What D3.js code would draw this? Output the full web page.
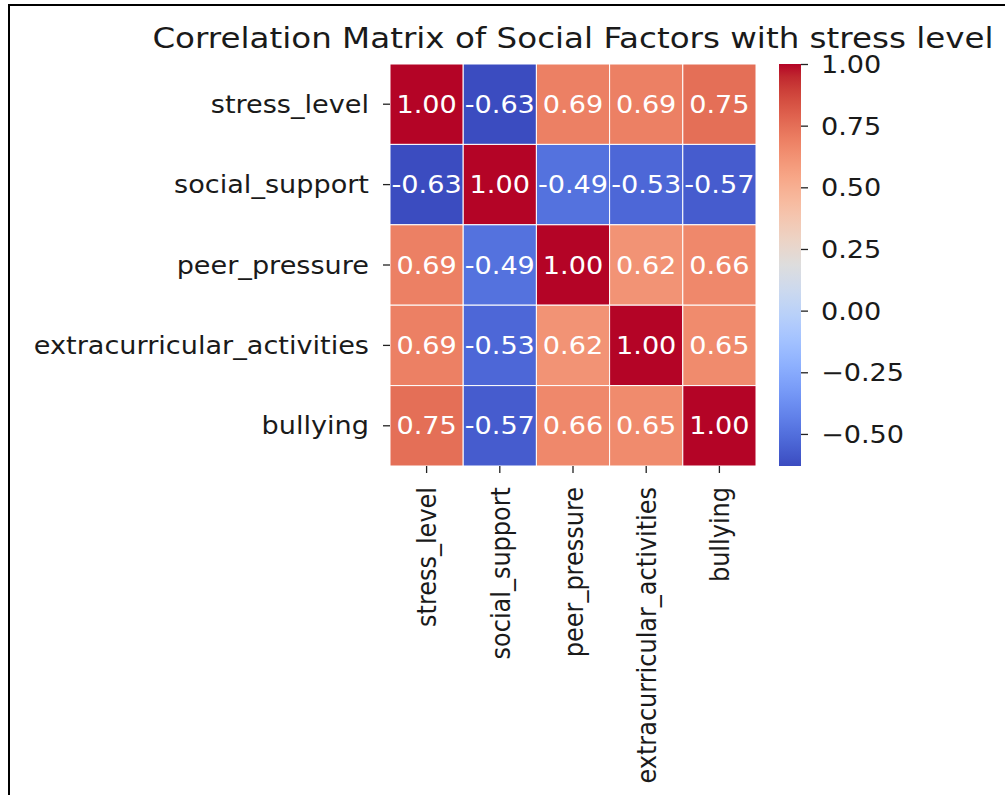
<!DOCTYPE html>
<html>
<head>
<meta charset="utf-8">
<script src="https://cdn.jsdelivr.net/npm/d3@7"></script>
<style>
  body { margin: 0; background: #fff; }
  text { font-family: "DejaVu Sans", sans-serif; fill: #1a1a1a; }
</style>
</head>
<body>
<svg id="chart"></svg>
<script>
// variables in the matrix (same order on both axes)
const factors = ["stress_level", "social_support", "peer_pressure", "extracurricular_activities", "bullying"];

// correlation values, one row per factor
const stressRow   = [1.00, -0.63, 0.69, 0.69, 0.75];
const supportRow  = [-0.63, 1.00, -0.49, -0.53, -0.57];
const pressureRow = [0.69, -0.49, 1.00, 0.62, 0.66];
const extraRow    = [0.69, -0.53, 0.62, 1.00, 0.65];
const bullyRow    = [0.75, -0.57, 0.66, 0.65, 1.00];

const colorbarTicks = [-0.50, -0.25, 0.00, 0.25, 0.50, 0.75, 1.00];

// matplotlib "coolwarm" sampled at 33 points
const coolwarm = [
  [59,76,192],[68,90,204],[77,104,215],[87,117,225],[98,130,234],[108,142,241],
  [119,154,247],[130,165,251],[141,176,254],[152,185,255],[163,194,255],[174,201,253],
  [184,208,249],[194,213,244],[204,217,238],[213,219,230],[221,221,221],[229,216,209],
  [236,211,197],[241,204,185],[245,196,173],[247,187,160],[247,177,148],[247,166,135],
  [244,154,123],[241,141,111],[236,127,99],[229,112,88],[222,96,77],[213,80,66],
  [203,62,56],[192,40,47],[180,4,38]
].map(c => d3.rgb(c[0], c[1], c[2]).formatHex());

const rows = [stressRow, supportRow, pressureRow, extraRow, bullyRow];
const cells = [];
rows.forEach((r, i) => r.forEach((v, j) => cells.push({row: factors[i], col: factors[j], value: v})));

const width = 1005, height = 795;
const sx = 1.13;   // the source picture is stretched sideways a bit
const fontSize = 24;
const heat = {left: 390, right: 756, top: 64, bottom: 466};
const bar = {left: 779, right: 801};

const vmin = d3.min(cells, d => d.value), vmax = d3.max(cells, d => d.value);

const svg = d3.select("#chart")
    .attr("width", width)
    .attr("height", height);

// frame of the screenshot
svg.append("line")
    .attr("x1", 8).attr("x2", width).attr("y1", 5).attr("y2", 5)
    .attr("stroke", "#000").attr("stroke-width", 2);
svg.append("line")
    .attr("x1", 9).attr("x2", 9).attr("y1", 4).attr("y2", height)
    .attr("stroke", "#000").attr("stroke-width", 2);

let x = d3.scaleBand().domain(factors).range([heat.left, heat.right]);
let y = d3.scaleBand().domain(factors).range([heat.top, heat.bottom]);

let stops = d3.range(coolwarm.length).map(i => i / (coolwarm.length - 1));
let color = d3.scaleLinear()
    .domain(stops.map(t => vmin + t * (vmax - vmin)))
    .range(coolwarm)
    .clamp(true);

// heatmap cells
svg.append("g")
  .selectAll("rect")
  .data(cells)
  .enter()
  .append("rect")
    .attr("x", d => x(d.col))
    .attr("y", d => y(d.row))
    .attr("width", x.bandwidth())
    .attr("height", y.bandwidth())
    .attr("fill", d => color(d.value))
    .attr("stroke", "#fff")
    .attr("stroke-width", 1);

// annotations
svg.append("g")
  .selectAll("text")
  .data(cells)
  .enter()
  .append("text")
    .attr("transform", d => `translate(${x(d.col) + x.bandwidth() / 2},${y(d.row) + y.bandwidth() / 2}) scale(${sx},1)`)
    .attr("text-anchor", "middle")
    .attr("dy", "0.36em")
    .attr("font-size", fontSize)
    .style("fill", "#fff")
    .text(d => d.value.toFixed(2));

// y axis
let yAxis = svg.append("g")
    .attr("transform", `translate(${heat.left},0)`)
    .call(d3.axisLeft(y).tickSize(7).tickPadding(0));
yAxis.select(".domain").remove();
yAxis.selectAll(".tick line").attr("stroke", "#222").attr("stroke-width", 1.3);
yAxis.selectAll(".tick text")
    .attr("x", null).attr("dy", null)
    .attr("transform", `translate(-21,0) scale(${sx},1)`)
    .attr("dy", "0.36em")
    .attr("font-size", fontSize)
    .attr("font-family", null)
    .attr("text-anchor", "end");

// x axis
let xAxis = svg.append("g")
    .attr("transform", `translate(0,${heat.bottom})`)
    .call(d3.axisBottom(x).tickSize(7).tickPadding(0));
xAxis.select(".domain").remove();
xAxis.selectAll(".tick line").attr("stroke", "#222").attr("stroke-width", 1.3);
xAxis.selectAll(".tick text")
    .attr("y", null).attr("dy", null)
    .attr("transform", `translate(0,21) scale(${sx},1) rotate(-90)`)
    .attr("dy", "0.36em")
    .attr("font-size", fontSize)
    .attr("font-family", null)
    .attr("text-anchor", "end");

// colorbar
let grad = svg.append("defs").append("linearGradient")
    .attr("id", "cbar")
    .attr("x1", 0).attr("x2", 0).attr("y1", 1).attr("y2", 0);
grad.selectAll("stop")
  .data(coolwarm)
  .enter()
  .append("stop")
    .attr("offset", (d, i) => stops[i])
    .attr("stop-color", d => d);

let cy = d3.scaleLinear().domain([vmin, vmax]).range([heat.bottom, heat.top]);
svg.append("rect")
    .attr("x", bar.left)
    .attr("y", cy(vmax))
    .attr("width", bar.right - bar.left)
    .attr("height", cy(vmin) - cy(vmax))
    .attr("fill", "url(#cbar)");

let cAxis = svg.append("g")
    .attr("transform", `translate(${bar.right},0)`)
    .call(d3.axisRight(cy).tickValues(colorbarTicks).tickSize(7)
          .tickFormat(d => d3.format(".2f")(d).replace("-", "\u2212")));
cAxis.select(".domain").remove();
cAxis.selectAll(".tick line").attr("stroke", "#222").attr("stroke-width", 1.3);
cAxis.selectAll(".tick text")
    .attr("x", null).attr("dy", null)
    .attr("transform", `translate(20,0) scale(${sx},1)`)
    .attr("dy", "0.36em")
    .attr("font-size", fontSize)
    .attr("font-family", null)
    .attr("text-anchor", "start");

// title
svg.append("text")
    .attr("transform", `translate(${(heat.left + heat.right) / 2},48) scale(${sx},1)`)
    .attr("text-anchor", "middle")
    .attr("font-size", fontSize * 1.2)
    .text("Correlation Matrix of Social Factors with stress level");
</script>
</body>
</html>
